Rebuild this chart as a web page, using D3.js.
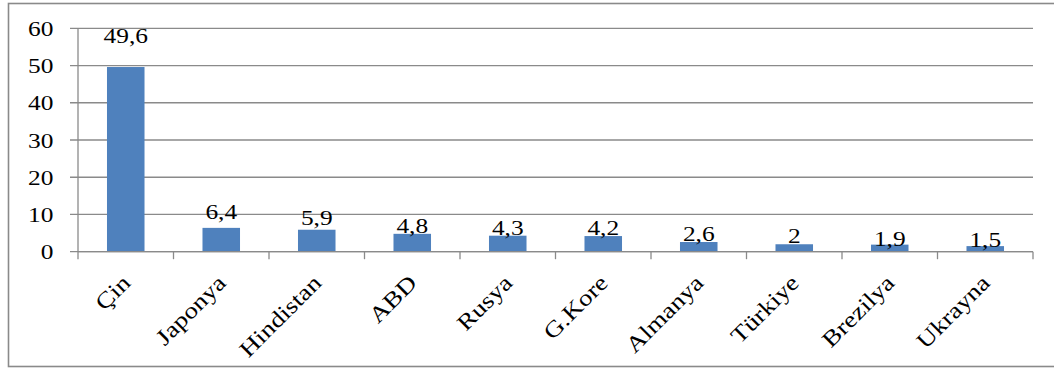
<!DOCTYPE html>
<html>
<head>
<meta charset="utf-8">
<script src="https://cdn.jsdelivr.net/npm/d3@7/dist/d3.min.js"></script>
<style>
  html, body { margin: 0; padding: 0; background: #fff; }
  svg { display: block; }
  text { font-family: "Liberation Serif", "Times New Roman", serif; fill: #000; }
</style>
</head>
<body>
<script>
// Countries and their values (shares, %)
const countries = ["Çin", "Japonya", "Hindistan", "ABD", "Rusya", "G.Kore", "Almanya", "Türkiye", "Brezilya", "Ukrayna"];
const values = [49.6, 6.4, 5.9, 4.8, 4.3, 4.2, 2.6, 2, 1.9, 1.5];
const valueLabels = ["49,6", "6,4", "5,9", "4,8", "4,3", "4,2", "2,6", "2", "1,9", "1,5"];
const yTicks = [0, 10, 20, 30, 40, 50, 60];

// Layout settings (pixels)
const W = 1054, H = 370;
const plot = { left: 78, right: 1033, top: 28.3, bottom: 251.7 };
const stretch = 1.27;           // horizontal glyph width factor
const gridColor = "#8a8a8a";
// Vertical lift of each value label above its bar
const labelLift = [24.3, 8.6, 4.7, 1.1, 0.7, 1.1, 1.0, 1.0, -1.0, -0.9];

const svg = d3.select("body").append("svg")
  .attr("width", W).attr("height", H);

// Outer chart frame
svg.append("rect")
  .attr("x", 8.5).attr("y", 3.5)
  .attr("width", W + 10).attr("height", 363)
  .attr("fill", "none").attr("stroke", gridColor).attr("stroke-width", 1.6);

const x = d3.scaleBand()
  .domain(countries)
  .range([plot.left, plot.right])
  .paddingInner(0.607)
  .paddingOuter(0.3035);

const y = d3.scaleLinear().domain([0, 60]).range([plot.bottom, plot.top]);

// Horizontal gridlines with outward tick stubs
svg.append("g").selectAll("line")
  .data(yTicks)
  .join("line")
  .attr("x1", plot.left - 8).attr("x2", plot.right)
  .attr("y1", d => y(d)).attr("y2", d => y(d))
  .attr("stroke", gridColor).attr("stroke-width", 1.3);

// Y axis line
svg.append("line")
  .attr("x1", plot.left).attr("x2", plot.left)
  .attr("y1", y(60)).attr("y2", y(0))
  .attr("stroke", gridColor).attr("stroke-width", 1.3);

// Y tick labels
svg.append("g").selectAll("text")
  .data(yTicks)
  .join("text")
  .attr("transform", d => `translate(53.5,${y(d) + 7.6}) scale(${stretch},1)`)
  .attr("text-anchor", "end")
  .attr("font-size", 20)
  .text(d => d);

// X axis ticks at category boundaries
const step = x.step();
const boundaries = d3.range(countries.length + 1).map(i => plot.left + i * step);
svg.append("g").selectAll("line")
  .data(boundaries)
  .join("line")
  .attr("x1", d => d).attr("x2", d => d)
  .attr("y1", y(0)).attr("y2", y(0) + 7.5)
  .attr("stroke", gridColor).attr("stroke-width", 1.3);

// Bars
svg.append("g").selectAll("rect")
  .data(values)
  .join("rect")
  .attr("x", (d, i) => x(countries[i]))
  .attr("width", x.bandwidth())
  .attr("y", d => y(d))
  .attr("height", d => y(0) - y(d))
  .attr("fill", "#4F81BD");

// X axis line drawn over bar bottoms
svg.append("line")
  .attr("x1", plot.left).attr("x2", plot.right)
  .attr("y1", y(0)).attr("y2", y(0))
  .attr("stroke", gridColor).attr("stroke-width", 1.3);

// Value labels above bars
svg.append("g").selectAll("text")
  .data(values)
  .join("text")
  .attr("transform", (d, i) => {
    const cx = x(countries[i]) + x.bandwidth() / 2;
    return `translate(${cx},${y(d) - labelLift[i]}) scale(${stretch},1)`;
  })
  .attr("text-anchor", "middle")
  .attr("font-size", 20)
  .text((d, i) => valueLabels[i]);

// Rotated category labels
svg.append("g").selectAll("text")
  .data(countries)
  .join("text")
  .attr("transform", d => {
    const cx = x(d) + x.bandwidth() / 2;
    return `translate(${cx + 6},${y(0) + 32.5}) rotate(-45) scale(1.2,1)`;
  })
  .attr("text-anchor", "end")
  .attr("font-size", 22.5)
  .text(d => d);
</script>
</body>
</html>
